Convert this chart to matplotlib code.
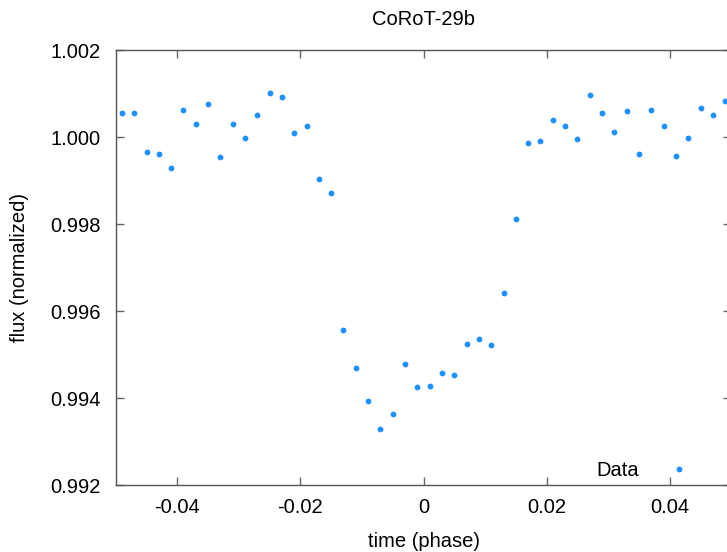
import matplotlib.pyplot as plt
from matplotlib.ticker import FuncFormatter

plt.rcParams['font.family'] = ['Liberation Sans', 'DejaVu Sans']

# phase bins and normalized flux
phase = [-0.049, -0.047, -0.045, -0.043, -0.041, -0.039, -0.037, -0.035, -0.033, -0.031,
         -0.029, -0.027, -0.025, -0.023, -0.021, -0.019, -0.017, -0.015, -0.013, -0.011,
         -0.009, -0.007, -0.005, -0.003, -0.001, 0.001, 0.003, 0.005, 0.007, 0.009,
         0.011, 0.013, 0.015, 0.017, 0.019, 0.021, 0.023, 0.025, 0.027, 0.029,
         0.031, 0.033, 0.035, 0.037, 0.039, 0.041, 0.043, 0.045, 0.047, 0.049]
flux = [1.000566, 1.000552, 0.999655, 0.999609, 0.999287, 1.000621, 1.000299, 1.000759, 0.999554, 1.000313,
        0.999977, 1.000520, 1.001011, 1.000920, 1.000092, 1.000267, 0.999048, 0.998726, 0.995570, 0.994690,
        0.993938, 0.993301, 0.993632, 0.994789, 0.994267, 0.994276, 0.994582, 0.994543, 0.995248, 0.995363,
        0.995218, 0.996421, 0.998122, 0.999876, 0.999915, 1.000391, 1.000267, 0.999961, 1.000972, 1.000552,
        1.000122, 1.000605, 0.999609, 1.000621, 1.000253, 0.999570, 0.999991, 1.000667, 1.000506, 1.000841]

xticks = [-0.04, -0.02, 0, 0.02, 0.04]
yticks = [0.992, 0.994, 0.996, 0.998, 1.000, 1.002]

fig = plt.figure(figsize=(7.27, 5.52), dpi=100)
ax = fig.add_axes([0.1592, 0.1208, 0.8467, 0.7880])

ax.plot(phase, flux, 'o', color='#1e90ff', markersize=4.2, markeredgewidth=0, label='Data')

ax.set_xlim(-0.05, 0.05)
ax.set_ylim(0.992, 1.002)
ax.set_xticks(xticks)
ax.set_yticks(yticks)
ax.xaxis.set_major_formatter(FuncFormatter(lambda v, p: '%g' % round(v, 4)))
ax.yaxis.set_major_formatter(FuncFormatter(lambda v, p: '%.3f' % v))
ax.tick_params(direction='in', length=6, width=1, color='#666666', labelsize=14.5,
               top=True, right=True)
ax.tick_params(axis='x', pad=9)
ax.tick_params(axis='y', pad=11)
for s in ax.spines.values():
    s.set_color('#555555')
    s.set_linewidth(1)

ax.set_title('CoRoT-29b', fontsize=14.5, pad=18)
ax.set_xlabel('time (phase)', fontsize=14.5, labelpad=11)
ax.set_ylabel('flux (normalized)', fontsize=14.5, labelpad=15)

ax.legend(loc='center right', bbox_to_anchor=(0.977, 0.035), frameon=False, markerfirst=False,
          fontsize=14.5, handletextpad=1.0, handlelength=2)

fig.savefig('out.png', dpi=100)
